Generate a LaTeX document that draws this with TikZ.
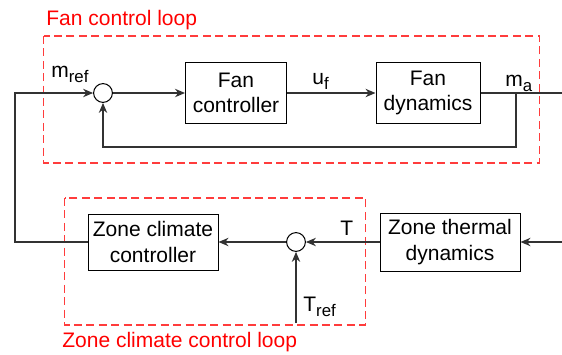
\documentclass[tikz,border=0pt]{standalone}
\usepackage{fontspec}
\setmainfont{Liberation Sans}
\usepackage{xcolor}
\usetikzlibrary{arrows.meta}
\definecolor{LoopRed}{RGB}{255,0,0}
\definecolor{DashRed}{RGB}{255,60,60}
\definecolor{WireGray}{RGB}{50,50,50}
\newcommand{\lowsub}[1]{\raisebox{-0.5ex}{\fontsize{8.4}{9}\selectfont #1}}

\begin{document}
\begin{tikzpicture}[x=0.5pt,y=-0.5pt,
    font=\fontsize{10.5}{12.85}\selectfont,
    block/.style={draw, fill=white, line width=0.5pt, align=center, inner sep=0pt},
    sumpt/.style={draw, circle, fill=white, minimum size=9.4pt, inner sep=0pt, line width=0.5pt},
    wire/.style={draw=WireGray, line width=0.6pt},
    sig/.style={wire, -{Stealth[length=5pt,width=4.2pt,inset=1.6pt]}},
    loopbox/.style={draw=DashRed, dash pattern=on 4pt off 2.2pt, line width=0.55pt},
    looplabel/.style={text=LoopRed, anchor=base west, inner sep=0pt},
    siglabel/.style={anchor=base west, inner sep=0pt}]
\useasboundingbox (0,0) rectangle (562,354);

% loop frames
\draw[loopbox] (43.5,36) rectangle (539.5,163);
\draw[loopbox] (64.5,198) rectangle (365.5,325);
\node[looplabel] (fanloop) at (46,25) {Fan control loop};
\node[looplabel] (zoneloop) at (62,347) {Zone climate control loop};

% blocks
\node[block, minimum width=50.5pt, minimum height=30.5pt] (fanctrl) at (236,93) {Fan\\controller};
\node[block, minimum width=52pt, minimum height=30.5pt] (fandyn) at (428,93) {Fan\\dynamics};
\node[block, minimum width=65pt, minimum height=28pt] (zonectrl) at (153,242) {Zone climate\\controller};
\node[block, minimum width=70pt, minimum height=29pt] (zonedyn) at (450,242) {Zone thermal\\dynamics};
\node[sumpt] (sum1) at (103,93) {};
\node[sumpt] (sum2) at (296,242) {};

% signal names
\node[siglabel] (mreflbl) at (51,77) {m\lowsub{ref}};
\node[siglabel] (uflbl) at (312,84) {u\lowsub{f}};
\node[siglabel] (malbl) at (505,86) {m\lowsub{a}};
\node[siglabel] (tlbl) at (340,235) {T};
\node[siglabel] (treflbl) at (303,311) {T\lowsub{ref}};

% connectors
\coordinate (mref) at (15,93);
\coordinate (tap) at (516,93);
\coordinate (fb) at (516,147);
\coordinate (mout) at (562,93);
\coordinate (tin) at (562,242);
\coordinate (tref) at (296,323);

\draw[sig] (zonectrl.west) -| (mref) -- (sum1);
\draw[sig] (sum1) -- (fanctrl);
\draw[sig] (fanctrl) -- (fandyn);
\draw[wire] (fandyn) -- (mout);
\draw[sig] (tap) -- (fb) -| (sum1);
\draw[sig] (tin) -- (zonedyn);
\draw[sig] (zonedyn) -- (sum2);
\draw[sig] (sum2) -- (zonectrl);
\draw[sig] (tref) -- (sum2);
\end{tikzpicture}
\end{document}
